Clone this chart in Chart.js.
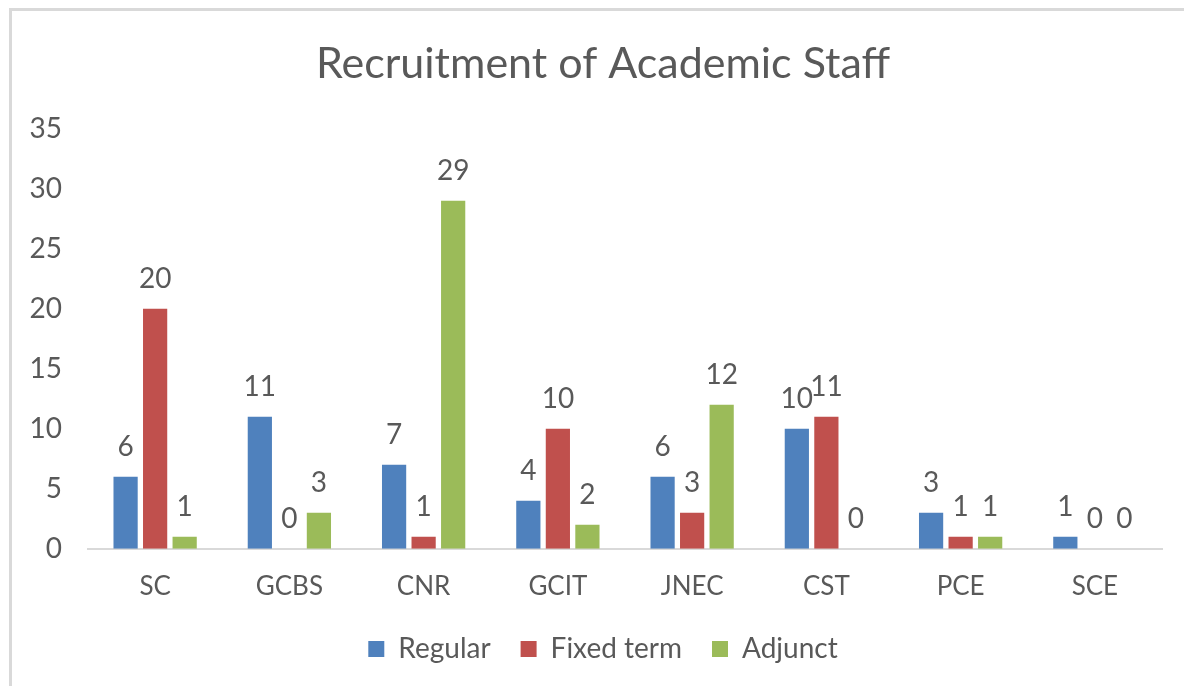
<!DOCTYPE html>
<html>
<head>
<meta charset="utf-8">
<script src="https://cdn.jsdelivr.net/npm/chart.js@4"></script>
<style>
  html, body { margin: 0; padding: 0; background: #fff; overflow: hidden; }
  #wrap { position: relative; width: 1184px; height: 686px; overflow: hidden; }
  #frame { position: absolute; left: 9px; top: 8px; right: -5px; bottom: -5px;
    border-left: 3px solid #d9d9d9; border-top: 3px solid #d9d9d9; pointer-events: none; }
</style>
</head>
<body>
<div id="wrap">
  <canvas id="chart" width="1206" height="686"></canvas>
  <div id="frame"></div>
</div>
<script>
/* Recruitment of Academic Staff - clustered columns */

const colleges = ["SC", "GCBS", "CNR", "GCIT", "JNEC", "CST", "PCE", "SCE"];
const regular = [6, 11, 7, 4, 6, 10, 3, 1];
const fixedTerm = [20, 0, 1, 10, 3, 11, 1, 0];
const adjunct = [1, 3, 29, 2, 12, 0, 1, 0];
const yTicks = [0, 5, 10, 15, 20, 25, 30, 35];

const TXT = "#595959";
const FONT = "Lato, 'Noto Sans', sans-serif";

const valueLabels = {
  id: "valueLabels",
  afterDatasetsDraw(chart) {
    const ctx = chart.ctx;
    ctx.save();
    ctx.font = `28px ${FONT}`;
    ctx.fillStyle = TXT;
    ctx.textAlign = "center";
    ctx.textBaseline = "alphabetic";
    chart.data.datasets.forEach((ds, i) => {
      chart.getDatasetMeta(i).data.forEach((bar, j) => {
        ctx.fillText(String(ds.data[j]), bar.x, bar.y - 21);
      });
    });
    ctx.restore();
  },
};

const bar = (label, data, color) => ({
  label, data, backgroundColor: color, borderWidth: 0,
  categoryPercentage: 0.66, barPercentage: 0.82,
});

new Chart(document.getElementById("chart"), {
  type: "bar",
  data: {
    labels: colleges,
    datasets: [
      bar("Regular", regular, "#4f81bd"),
      bar("Fixed term", fixedTerm, "#c0504d"),
      bar("Adjunct", adjunct, "#9bbb59"),
    ],
  },
  options: {
    responsive: false, animation: false,
    layout: { padding: { left: 0, right: 0, top: 0, bottom: 13 } },
    plugins: {
      title: { display: true, text: "Recruitment of Academic Staff", color: TXT,
        font: { family: FONT, size: 43, weight: "normal" }, padding: { top: 38, bottom: 39 } },
      legend: { position: "bottom",
        labels: { color: TXT, font: { family: FONT, size: 28 }, boxWidth: 16, boxHeight: 16, padding: 30 } },
      tooltip: { enabled: false },
    },
    scales: {
      x: {
        afterFit: (s) => { s.height -= 11; },
        grid: { display: false },
        border: { display: true, color: "#d9d9d9", width: 2 },
        ticks: { color: TXT, font: { family: FONT, size: 26 }, padding: 14 },
      },
      y: {
        min: 0, max: 35,
        afterFit: (s) => { s.width = 88; },
        afterBuildTicks: (s) => { s.ticks = yTicks.map((v) => ({ value: v })); },
        grid: { display: false, drawTicks: false },
        border: { display: false },
        ticks: { color: TXT, font: { family: FONT, size: 28 }, padding: 26 },
      },
      // empty spacer on the right so title and legend sit where the original has them
      spacer: {
        position: "right", axis: "y",
        afterFit: (s) => { s.width = 44; },
        grid: { display: false, drawTicks: false },
        border: { display: false },
        ticks: { display: false },
      },
    },
  },
  plugins: [valueLabels],
});
</script>
</body>
</html>
